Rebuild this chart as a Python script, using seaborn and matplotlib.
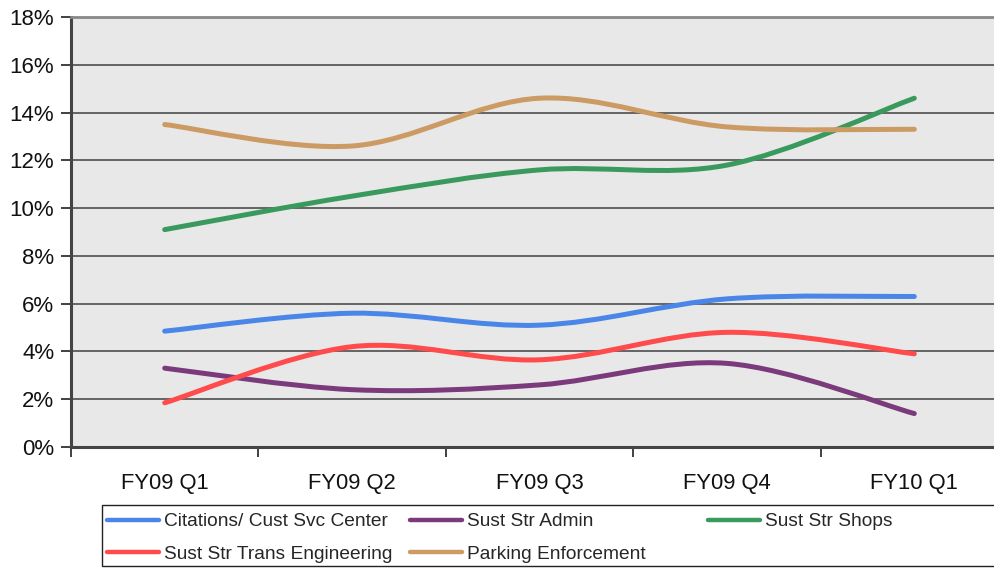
import numpy as np
import pandas as pd
import matplotlib
matplotlib.use("Agg")
import matplotlib.pyplot as plt
import seaborn as sns
from matplotlib.path import Path
from matplotlib.patches import PathPatch, Rectangle
from matplotlib.lines import Line2D
from matplotlib.ticker import FixedLocator

quarters = ["FY09 Q1", "FY09 Q2", "FY09 Q3", "FY09 Q4", "FY10 Q1"]
citations = [4.85, 5.6, 5.1, 6.2, 6.3]
admin = [3.3, 2.4, 2.6, 3.5, 1.4]
shops = [9.1, 10.5, 11.6, 11.8, 14.6]
trans_eng = [1.85, 4.2, 3.65, 4.8, 3.9]
parking = [13.5, 12.6, 14.6, 13.4, 13.3]
series_names = ["Citations/ Cust Svc Center", "Sust Str Admin", "Sust Str Shops",
                "Sust Str Trans Engineering", "Parking Enforcement"]
series_vals = [citations, admin, shops, trans_eng, parking]
colors = ["#4a86e8", "#7b3a7b", "#3a9a5e", "#ff4b4b", "#cc9a63"]
yticks = [0, 2, 4, 6, 8, 10, 12, 14, 16, 18]

sns.set_theme(style="white")
plt.rcParams['font.family'] = ['Liberation Sans', 'DejaVu Sans']

fig = plt.figure(figsize=(9.94, 5.68), dpi=100)
ax = fig.add_axes([71/994, 1-447/568, 937/994, 430/568])
ax.set_facecolor("#e8e8e8")

rows = []
for name, vals in zip(series_names, series_vals):
    for i, v in enumerate(vals):
        rows.append({"x": i, "y": v, "series": name})
df = pd.DataFrame(rows)
sns.lineplot(data=df, x="x", y="y", hue="series", palette=dict(zip(series_names, colors)),
             ax=ax, legend=False, linewidth=0)

# smooth (Excel-like Catmull-Rom Bezier) drawing of each series
for name, vals, c in zip(series_names, series_vals, colors):
    pts = np.array([[i, v] for i, v in enumerate(vals)], dtype=float)
    n = len(pts)
    verts = [tuple(pts[0])]
    codes = [Path.MOVETO]
    for i in range(n - 1):
        p0 = pts[i - 1] if i > 0 else pts[i]
        p1 = pts[i]
        p2 = pts[i + 1]
        p3 = pts[i + 2] if i + 2 < n else pts[i + 1]
        c1 = p1 + (p2 - p0) / 6.0
        c2 = p2 - (p3 - p1) / 6.0
        verts += [tuple(c1), tuple(c2), tuple(p2)]
        codes += [Path.CURVE4] * 3
    ax.add_patch(PathPatch(Path(verts, codes), facecolor="none", edgecolor=c,
                           lw=3.6, capstyle="round", joinstyle="round", zorder=3))

ax.set_xlim(-0.5, 4.5)
ax.set_ylim(0, 18)
ax.set_yticks(yticks)
ax.set_yticklabels([f"{t}%" for t in yticks])
ax.set_xticks(range(len(quarters)))
ax.set_xticklabels(quarters)
ax.xaxis.set_minor_locator(FixedLocator([-0.5, 0.5, 1.5, 2.5, 3.5, 4.5]))
ax.tick_params(axis="x", which="major", length=0, pad=19, labelsize=15.8, colors="#111111")
ax.tick_params(axis="x", which="minor", length=7, width=1.3, color="#333333", bottom=True)
ax.tick_params(axis="y", length=7, width=1.3, color="#333333", pad=5, labelsize=16,
               left=True, labelcolor="#111111")
ax.grid(axis="y", color="#404040", linewidth=1.1)
ax.grid(axis="x", visible=False)
ax.set_axisbelow(True)
ax.set_xlabel("")
ax.set_ylabel("")
for s in ["left", "bottom"]:
    ax.spines[s].set_color("#444444")
    ax.spines[s].set_linewidth(2.2)
ax.spines["top"].set_color("#888888")
ax.spines["top"].set_linewidth(2)
ax.spines["right"].set_visible(False)

# legend frame
fig.patches.append(Rectangle((102/994, 1-566/568), 900/994, 61/568, transform=fig.transFigure,
                             facecolor="white", edgecolor="#222222", lw=1.0, zorder=1))
handles = [Line2D([0], [0], color=c, lw=3.2, solid_capstyle="round") for c in colors]
cols = [[0, 3], [1, 4], [2]]
col_x = [103, 406, 704]
for cx, idxs in zip(col_x, cols):
    leg = fig.legend([handles[i] for i in idxs], [series_names[i] for i in idxs],
                     loc="upper left", bbox_to_anchor=(cx/994, 1-509/568),
                     frameon=False, fontsize=13.8, handlelength=2.7, handletextpad=0.3,
                     labelspacing=0.8, borderaxespad=0, borderpad=0.2)
    leg.set_zorder(2)

fig.savefig("out.png", dpi=100, facecolor="white")
